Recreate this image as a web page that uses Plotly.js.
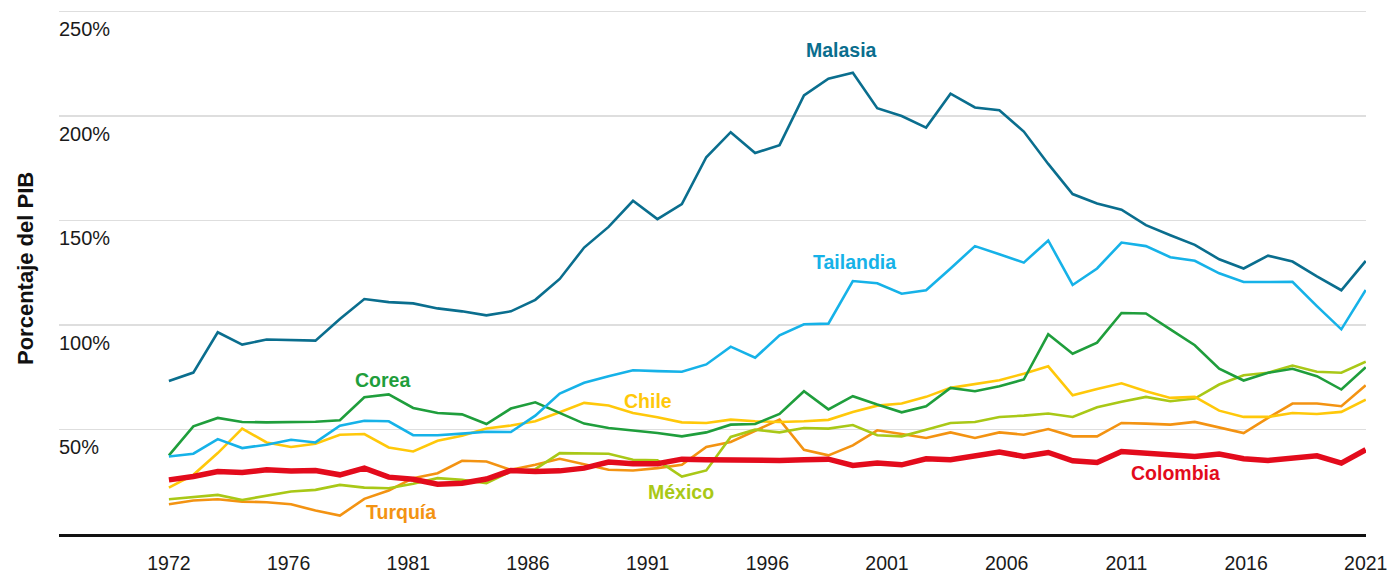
<!DOCTYPE html>
<html>
<head>
<meta charset="utf-8">
<script src="https://cdn.plot.ly/plotly-3.0.1.min.js"></script>
<style>
html,body{margin:0;padding:0;background:#fff;}
#chart{width:1387px;height:575px;}
</style>
</head>
<body>
<div id="chart"></div>
<script>
const years = [];
for (let y = 1972; y <= 2021; y++) years.push(y);

const malasia = [73.2,77.2,96.5,90.6,93.0,92.6,92.5,102.8,112.4,110.9,110.3,107.9,106.5,104.6,106.5,112.0,122.0,137.0,146.9,159.4,150.6,157.8,180.2,192.2,182.2,186.0,209.8,217.8,220.6,203.7,199.9,194.4,210.6,204.0,202.7,192.5,177.0,162.6,158.1,155.1,147.7,142.9,138.3,131.4,127.0,133.1,130.3,123.2,116.6,130.6];
const tailandia = [37.1,38.4,45.4,41.1,42.7,45.1,43.8,51.8,54.2,53.9,47.3,47.2,48.0,48.9,48.8,56.6,67.2,72.3,75.5,78.3,77.9,77.6,81.1,89.6,84.3,95.0,100.3,100.6,121.0,119.9,114.9,116.6,127.0,137.7,133.8,129.8,140.4,119.1,127.0,139.4,137.7,132.4,130.7,124.7,120.5,120.7,120.6,109.0,97.9,116.7];
const corea = [37.6,51.5,55.5,53.6,53.4,53.4,53.7,54.4,65.4,66.8,60.3,57.9,57.2,52.6,60.0,63.0,57.9,52.8,50.7,49.6,48.3,46.7,48.6,52.3,52.6,57.4,68.3,59.6,65.9,61.9,58.2,61.1,69.9,68.3,70.7,73.9,95.5,86.2,91.5,105.7,105.5,97.9,90.3,79.1,73.4,77.1,79.0,75.5,69.1,79.8];
const chile = [22.2,28.3,38.7,50.4,43.8,41.6,43.2,47.5,47.8,41.4,39.5,44.6,47.0,50.5,51.9,53.9,58.2,62.7,61.5,57.9,55.8,53.4,53.1,54.7,53.9,53.6,53.9,54.6,58.4,61.4,62.4,65.6,69.9,71.8,73.5,76.7,80.2,66.3,69.4,72.1,68.3,65.1,65.6,59.0,56.0,56.0,57.9,57.4,58.4,64.3];
const turquia = [14.2,16.0,16.6,15.5,15.2,14.2,11.2,8.8,16.8,20.8,26.7,29.1,35.0,34.7,30.7,33.1,36.0,33.4,30.7,30.4,31.5,33.1,41.6,44.0,49.4,54.7,40.3,37.6,42.4,49.6,47.8,45.9,48.6,45.9,48.6,47.5,50.2,46.7,46.7,53.1,52.8,52.3,53.6,51.0,48.3,55.5,62.4,62.4,61.1,71.1];
const mexico = [16.6,17.6,18.7,16.3,18.2,20.3,21.1,23.5,22.2,21.9,24.0,26.7,25.9,24.3,29.9,31.0,38.7,38.4,38.4,35.5,35.2,27.5,30.4,46.4,49.9,48.6,50.7,50.4,52.1,47.2,46.7,49.9,53.1,53.6,56.0,56.6,57.6,56.0,60.6,63.3,65.6,63.5,64.8,71.5,75.9,77.1,80.6,77.6,77.1,82.4];
const colombia = [25.9,27.5,29.9,29.4,30.7,30.1,30.4,28.3,31.5,27.2,26.2,23.8,24.3,26.3,30.4,29.9,30.2,31.5,34.4,33.6,33.6,35.8,35.5,35.2,35.5,35.2,35.5,35.8,32.8,33.9,33.1,36.0,35.5,37.1,39.2,37.1,39.0,35.0,34.2,39.5,38.7,37.6,37.1,38.2,36.0,35.2,36.3,37.4,33.9,40.3];

const tickYears = ["1972","1976","1981","1986","1991","1996","2001","2006","2011","2016","2021"];
const yTicks = [50,100,150,200,250];
const yTickText = ["50%","100%","150%","200%","250%"];

const labelNames = ["Malasia","Tailandia","Corea","Chile","México","Turquía","Colombia"];
const labelYears = [1999.55,2000.05,1980.75,1991.6,1992.95,1981.5,2013.2];
const labelValues = [231.5,130.0,73.8,63.8,20.2,10.3,29.4];

const colors = {
  malasia:'#0a6e8e', tailandia:'#16b2e8', corea:'#1f9e3c', chile:'#ffc80a',
  turquia:'#f39312', mexico:'#a9c817', colombia:'#e30b1c'
};
const labelColors = [colors.malasia, colors.tailandia, colors.corea, colors.chile, colors.mexico, colors.turquia, colors.colombia];

function line(name, y, color, w){
  return {type:'scatter', mode:'lines', name:name, x:years, y:y,
    line:{color:color, width:w, shape:'linear'}, hoverinfo:'x+y+name'};
}

const traces = [
  line('Turquía', turquia, colors.turquia, 2.6),
  line('México', mexico, colors.mexico, 2.6),
  line('Chile', chile, colors.chile, 2.6),
  line('Corea', corea, colors.corea, 2.6),
  line('Tailandia', tailandia, colors.tailandia, 2.6),
  line('Malasia', malasia, colors.malasia, 2.6),
  line('Colombia', colombia, colors.colombia, 5.5)
];

const x0 = 1967.5, x1 = 2021.01;
const tickPos = tickYears.map((t,i)=> Math.round((1972 + i*(2021-1972)/(tickYears.length-1))*1000)/1000);

const annotations = labelNames.map((n,i)=>({
  x: labelYears[i], y: labelValues[i], xref:'x', yref:'y', text:n, showarrow:false,
  xanchor:'center', yanchor:'middle',
  font:{family:'Liberation Sans, Arial, sans-serif', size:19.5, color:labelColors[i], weight:700}
}));
annotations.push({
  x:0, xref:'paper', xanchor:'center', xshift:-34, y:0.5, yref:'paper', yanchor:'middle',
  text:'<b>Porcentaje del PIB</b>', textangle:-90, showarrow:false,
  font:{family:'Liberation Sans, Arial, sans-serif', size:22, color:'#111'}
});

const layout = {
  width:1387, height:575,
  margin:{l:59, r:21, t:4, b:41},
  paper_bgcolor:'#fff', plot_bgcolor:'#fff',
  showlegend:false,
  font:{family:'Liberation Sans, Arial, sans-serif', color:'#1a1a1a'},
  xaxis:{range:[x0,x1], tickvals:tickPos, ticktext:tickYears, showgrid:false, zeroline:false,
    showline:true, linecolor:'#111', linewidth:3.2, ticks:'', ticklabelstandoff:9,
    ticklabeloverflow:'allow',
    tickfont:{size:19.5, color:'#1a1a1a'}, fixedrange:true},
  yaxis:{range:[0,253.5], tickvals:yTicks, ticktext:yTickText, showgrid:true, gridcolor:'#dedede', gridwidth:1.5,
    zeroline:false, showline:false, ticks:'', ticklabelposition:'inside', ticklabelshift:18, ticklabelstandoff:-3,
    tickfont:{size:20, color:'#1a1a1a'}, fixedrange:true},
  annotations:annotations
};

Plotly.newPlot('chart', traces, layout, {displayModeBar:false, staticPlot:true});
</script>
</body>
</html>
